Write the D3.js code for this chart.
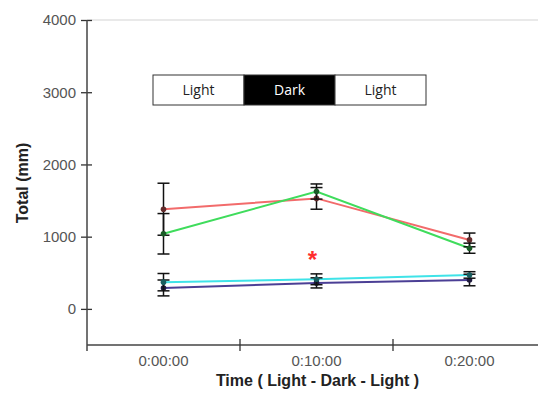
<!DOCTYPE html>
<html>
<head>
<meta charset="utf-8">
<script src="https://cdn.jsdelivr.net/npm/d3@7"></script>
<style>
  body { margin: 0; background: #fff; }
  svg { display: block; font-family: "Liberation Sans", Arial, sans-serif; }
</style>
</head>
<body>
<div id="chart"></div>
<script>
// time points (categories)
const times = ['0:00:00', '0:10:00', '0:20:00']
const yTicks = [0, 1000, 2000, 3000, 4000]
const phases = ['Light', 'Dark', 'Light']

// series values (mean) and error (sd) per time point
const redMean = [1380, 1530, 955]
const redErr = [360, 150, 95]
const greenMean = [1040, 1625, 840]
const greenErr = [280, 105, 70]
const cyanMean = [370, 410, 470]
const cyanErr = [120, 75, 45]
const navyMean = [290, 360, 400]
const navyErr = [110, 70, 80]

// significance marker (time index, value)
const starAt = {t: '0:10:00', v: 570}

const series = [
    {name: 'red', color: '#f26b6b', mean: redMean, err: redErr},
    {name: 'green', color: '#3fdc5c', mean: greenMean, err: greenErr},
    {name: 'navy', color: '#4b3f95', mean: navyMean, err: navyErr},
    {name: 'cyan', color: '#3fe3e8', mean: cyanMean, err: cyanErr}
]

const width = 538, height = 399
const mLeft = 87, mRight = 546, mTop = 20, mBottom = 345

const svg = d3.select('#chart').append('svg')
    .attr('width', width)
    .attr('height', height)

const x = d3.scaleBand().domain(times).range([mLeft, mRight]).padding(0)
const y = d3.scaleLinear().domain([-500, 4000]).range([mBottom, mTop])
const cx = t => x(t) + x.bandwidth() / 2

//top light border
svg.append('line')
    .attr('x1', mLeft).attr('x2', width)
    .attr('y1', mTop).attr('y2', mTop)
    .attr('stroke', '#e2e2e2').attr('stroke-width', 1.5)

//y axis
const yAxis = svg.append('g')
    .attr('transform', `translate(${mLeft},0)`)
    .call(d3.axisLeft(y).tickValues(yTicks).tickSize(6).tickPadding(5).tickFormat(d3.format('d')))
yAxis.select('.domain').remove()
yAxis.selectAll('.tick line').attr('x1', 5).attr('stroke', '#333').attr('stroke-width', 1.3)
yAxis.selectAll('.tick text')
    .attr('fill', '#555').style('font-size', '15px')
yAxis.append('line')
    .attr('x1', 0).attr('x2', 0).attr('y1', mTop).attr('y2', mBottom + 6)
    .attr('stroke', '#444').attr('stroke-width', 1.5)

//x axis
const xAxis = svg.append('g')
    .attr('transform', `translate(0,${mBottom})`)
xAxis.append('line')
    .attr('x1', mLeft).attr('x2', width)
    .attr('stroke', '#444').attr('stroke-width', 1.5)
xAxis.selectAll('.xtick')
    .data(times.slice(1))
    .join('line')
    .attr('class', 'xtick')
    .attr('x1', d => x(d)).attr('x2', d => x(d))
    .attr('y1', -6).attr('y2', 6)
    .attr('stroke', '#333').attr('stroke-width', 1.3)
xAxis.selectAll('.xlabel')
    .data(times)
    .join('text')
    .attr('class', 'xlabel')
    .attr('x', d => cx(d))
    .attr('y', 21)
    .attr('text-anchor', 'middle')
    .attr('fill', '#555')
    .style('font-size', '15px')
    .text(d => d)

//axis titles
svg.append('text')
    .attr('x', cx(times[1]) + 1)
    .attr('y', 386)
    .attr('text-anchor', 'middle')
    .attr('fill', '#222')
    .style('font-size', '16px')
    .style('font-weight', 'bold')
    .text('Time ( Light - Dark - Light )')

svg.append('text')
    .attr('transform', 'translate(27.5,183) rotate(-90)')
    .attr('text-anchor', 'middle')
    .attr('fill', '#222')
    .style('font-size', '16px')
    .style('font-weight', 'bold')
    .text('Total (mm)')

//light / dark box
const boxW = 91, boxX = 153, boxY = 75, boxH = 30
const box = svg.append('g')
box.selectAll('rect')
    .data(phases)
    .join('rect')
    .attr('x', (_, i) => boxX + i * boxW)
    .attr('y', boxY)
    .attr('width', boxW)
    .attr('height', boxH)
    .attr('fill', d => d === 'Dark' ? '#000' : '#fff')
    .attr('stroke', '#333')
    .attr('stroke-width', 1)
box.selectAll('text')
    .data(phases)
    .join('text')
    .attr('x', (_, i) => boxX + i * boxW + boxW / 2)
    .attr('y', boxY + boxH / 2 + 5)
    .attr('text-anchor', 'middle')
    .attr('fill', d => d === 'Dark' ? '#fff' : '#222')
    .style('font-family', '"Open Sans", "Noto Sans", sans-serif')
    .style('font-size', '14px')
    .text(d => d)

//lines
const line = d3.line().x(d => cx(d.t)).y(d => y(d.v))
series.forEach(s => {
    const pts = times.map((t, i) => ({t, v: s.mean[i], e: s.err[i]}))
    svg.append('path')
        .datum(pts)
        .attr('d', line)
        .attr('fill', 'none')
        .attr('stroke', s.color)
        .attr('stroke-width', 2)
})

//error bars and markers
series.forEach(s => {
    const pts = times.map((t, i) => ({t, v: s.mean[i], e: s.err[i]}))
    const g = svg.append('g').attr('stroke', '#111').attr('stroke-width', 1.5)
    g.selectAll('.stem')
        .data(pts)
        .join('line')
        .attr('class', 'stem')
        .attr('x1', d => cx(d.t)).attr('x2', d => cx(d.t))
        .attr('y1', d => y(d.v - d.e)).attr('y2', d => y(d.v + d.e))
    g.selectAll('.capTop')
        .data(pts)
        .join('line')
        .attr('class', 'capTop')
        .attr('x1', d => cx(d.t) - 6).attr('x2', d => cx(d.t) + 6)
        .attr('y1', d => y(d.v + d.e)).attr('y2', d => y(d.v + d.e))
    g.selectAll('.capBot')
        .data(pts)
        .join('line')
        .attr('class', 'capBot')
        .attr('x1', d => cx(d.t) - 6).attr('x2', d => cx(d.t) + 6)
        .attr('y1', d => y(d.v - d.e)).attr('y2', d => y(d.v - d.e))
    svg.append('g').selectAll('circle')
        .data(pts)
        .join('circle')
        .attr('cx', d => cx(d.t))
        .attr('cy', d => y(d.v))
        .attr('r', 2.8)
        .attr('fill', d3.color(s.color).darker(2.5))
})

//significance star
svg.append('text')
    .attr('x', cx(starAt.t) - 4)
    .attr('y', y(starAt.v))
    .attr('text-anchor', 'middle')
    .attr('fill', '#ff2e2e')
    .style('font-size', '24px')
    .style('font-weight', 'bold')
    .text('*')
</script>
</body>
</html>
